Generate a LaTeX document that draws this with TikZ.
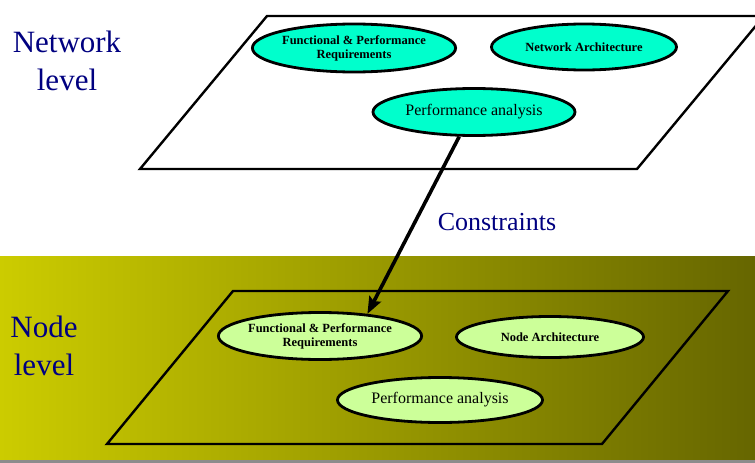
\documentclass[tikz,border=0pt]{standalone}
\usepackage{fontspec}
\setmainfont{Liberation Serif}
\usetikzlibrary{shapes.geometric,arrows.meta}
\definecolor{navytext}{HTML}{000080}
\definecolor{netfill}{HTML}{00FFCC}
\definecolor{nodefill}{HTML}{CCFF99}
\definecolor{bandleft}{HTML}{CCCC00}
\definecolor{bandright}{HTML}{666600}
\tikzset{
  plane/.style={draw=black, line width=2.4pt, line join=miter},
  oval/.style={ellipse, draw=black, line width=2.8pt, inner sep=0pt, align=center},
  netoval/.style={oval, fill=netfill},
  nodeoval/.style={oval, fill=nodefill},
  smalllabel/.style={font=\fontsize{12.5}{14}\selectfont\bfseries},
  biglabel/.style={font=\fontsize{16}{18}\selectfont},
  levellabel/.style={text=navytext, align=center, font=\fontsize{31}{38}\selectfont},
  link/.style={line width=3.6pt, -{Stealth[length=17pt,width=13pt,inset=3pt]}}
}
\begin{document}
\begin{tikzpicture}[x=1pt, y=-1pt]
\useasboundingbox (0,0) rectangle (755,463);
\clip (0,0) rectangle (755,463);

% background of the node level: a horizontal olive gradient
\shade[left color=bandleft, right color=bandright] (0,256) rectangle (755,460);
\fill[black!45] (0,460) rectangle (755,463);

% network level plane (runs off the right edge)
\draw[plane] (267,16) -- (764,16) -- (637,169) -- (140,169) -- cycle;
% node level plane
\draw[plane] (233,291) -- (728,291) -- (602,444) -- (107,444) -- cycle;

% level titles
\node[levellabel] (netlvl) at (67,61) {Network\\level};
\node[levellabel] (nodelvl) at (44,346) {Node\\level};

% network level ovals
\node[netoval, smalllabel, minimum width=196pt, minimum height=48pt] (fr1) at (354,48)
  {Functional \& Performance\\Requirements};
\node[netoval, smalllabel, minimum width=185pt, minimum height=46pt] (na) at (584,47)
  {Network Architecture};
\node[netoval, biglabel, minimum width=202pt, minimum height=47pt] (pa1) at (474,112)
  {Performance analysis};

% node level ovals
\node[nodeoval, smalllabel, minimum width=196pt, minimum height=47pt] (fr2) at (320,336)
  {Functional \& Performance\\Requirements};
\node[nodeoval, smalllabel, minimum width=187pt, minimum height=41pt] (ndarch) at (550,337)
  {Node Architecture};
\node[nodeoval, biglabel, minimum width=205pt, minimum height=45pt] (pa2) at (440,400)
  {Performance analysis};

% constraint link between the levels
\draw[link] (pa1.239) -- (fr2.25);
\node[text=navytext, font=\fontsize{26}{30}\selectfont, anchor=base] (cons) at (497,230) {Constraints};
\end{tikzpicture}
\end{document}
